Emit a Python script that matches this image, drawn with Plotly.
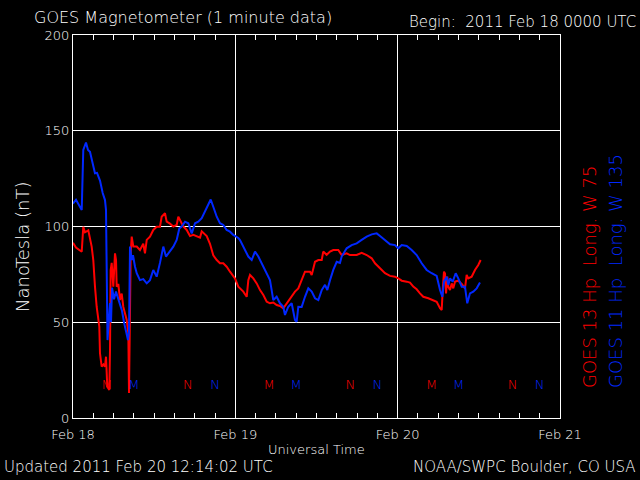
import pandas as pd
import plotly.graph_objects as go

# ---------------- data (hours after 2011 Feb 18 00:00 UTC, nT) ----------------
goes11_hours = [0.0, 0.44, 1.29, 1.52, 1.92, 2.22, 2.51, 2.76, 2.96, 3.25, 3.55, 3.99, 4.39, 4.73,
                4.88, 4.98, 5.1, 5.47, 5.62, 5.77, 6.06, 6.36, 6.65, 6.95, 7.24, 7.54, 7.84, 8.13,
                8.28, 8.43, 8.68, 8.87, 9.17, 9.42, 9.9, 10.39, 10.9, 11.38, 11.87, 12.37, 12.86,
                13.35, 13.75, 14.34, 14.83, 15.33, 15.72, 16.07, 16.56, 17.05, 17.55, 18.04, 18.52,
                19.03, 19.52, 20.0, 20.36, 20.74, 21.25, 21.73, 22.22, 22.72, 23.21, 23.7, 24.44,
                24.69, 25.18, 25.92, 26.42, 26.91, 27.4, 27.9, 28.64, 29.12, 29.37, 29.61, 30.11,
                30.6, 31.09, 31.34, 31.83, 32.33, 32.82, 33.07, 33.31, 33.81, 34.3, 34.79, 35.29,
                35.78, 36.27, 36.77, 37.26, 37.6, 38.0, 38.48, 38.99, 39.47, 39.72, 40.46, 41.2,
                41.94, 42.68, 43.42, 44.16, 44.9, 45.39, 46.13, 46.87, 47.6, 48.09, 48.6, 49.34,
                50.07, 50.81, 51.55, 52.29, 53.03, 53.77, 54.26, 54.6, 54.85, 55.25, 55.49, 55.74,
                56.14, 56.58, 56.96, 57.47, 57.95, 58.29, 58.69, 59.18, 59.68, 60.17]
goes11_nt = [112, 114, 108.6, 140, 143.8, 140, 139, 134.7, 133, 127.8, 128, 124, 117.5, 113.8,
             108.6, 68.6, 40.7, 60, 50, 68, 62, 66, 63, 60, 56, 50, 46, 40.7,
             45, 89.5, 82.5, 85, 79, 75.6, 72, 72.5, 70.3, 72, 77.3, 73.8, 81,
             89.5, 84.3, 87, 89.5, 93, 99, 100, 102.5, 101.7, 96.4, 101.7, 102.5,
             104.3, 107.7, 111.2, 114.1, 110.3, 105.1, 101.7, 100.8, 98.2, 97.3, 95.6, 94,
             92.9, 89.5, 84.3, 82.5, 86.9, 84.3, 80.8, 75.6, 72, 66.8, 61.6, 63.3,
             59.9, 58.1, 53.8, 58.1, 59.9, 51.2, 50.3, 58.1, 58, 63.3, 67.7, 66,
             62.5, 61.6, 66.8, 69.5, 66.8, 72, 77.3, 81.6, 81, 84.3, 88.6, 90.3,
             91.2, 93, 94.7, 95.9, 96.4, 95, 93, 90.7, 90.3, 88.6, 90.3, 89.8,
             87.7, 85.1, 80.8, 77.3, 75.6, 74.2, 66.8, 63.3, 71.2, 73.8, 69.5, 72.9,
             71.2, 75.6, 72.9, 68.6, 68.6, 59.9, 65.1, 66, 67.7, 70.7]

goes13_hours = [0.0, 0.44, 1.29, 1.52, 1.77, 2.26, 2.76, 3.0, 3.25, 3.5, 3.89, 3.99, 4.24, 4.51,
                4.73, 4.88, 5.07, 5.37, 5.47, 5.57, 5.72, 5.96, 6.21, 6.36, 6.46, 6.7, 6.95, 7.2,
                7.44, 7.69, 7.94, 8.18, 8.28, 8.53, 8.68, 8.92, 9.42, 9.9, 10.39, 10.64, 10.9,
                11.38, 11.87, 12.37, 12.86, 13.11, 13.6, 13.85, 14.34, 14.83, 15.33, 15.57, 15.82,
                16.31, 16.81, 17.3, 17.79, 18.29, 18.78, 19.03, 19.77, 20.25, 20.74, 21.25, 21.73,
                22.22, 22.72, 23.21, 23.7, 23.95, 24.44, 25.18, 25.68, 25.92, 26.17, 26.66, 27.16,
                27.65, 28.14, 28.64, 29.12, 29.61, 30.11, 30.6, 31.09, 31.59, 32.08, 32.82, 33.31,
                33.81, 34.3, 35.04, 35.29, 35.78, 36.27, 36.77, 37.0, 37.5, 38.0, 38.48, 39.22,
                39.72, 40.46, 40.95, 41.94, 42.68, 43.42, 44.16, 44.65, 45.39, 46.13, 46.87, 47.6,
                48.09, 48.6, 49.34, 49.82, 50.31, 50.81, 51.3, 51.79, 52.53, 53.03, 53.77, 54.26,
                54.51, 54.66, 54.85, 55.0, 55.15, 55.34, 55.49, 55.74, 55.99, 56.22, 56.48, 56.96,
                57.47, 57.95, 58.2, 58.44, 58.94, 59.43, 59.92, 60.27]
goes13_nt = [91.5, 89, 86.8, 99.9, 97, 98, 89.5, 82.5, 68.6, 58.1, 47.7, 33.8, 26.8, 28,
             26.8, 32, 16.3, 14.6, 35.5, 77.3, 81, 68.6, 86, 82.5, 68.6, 70, 61.6, 65,
             58, 54.7, 51.2, 44.2, 13, 86, 94.7, 89.5, 89.5, 87.7, 91, 86, 93,
             94.7, 98.2, 99.9, 99.9, 105.1, 106.9, 102.5, 101.5, 100, 100.8, 105.1, 103.4,
             100, 98.2, 95, 95.6, 95, 94.2, 97.5, 95, 91, 85, 82.5, 80.8,
             80.8, 79, 76.4, 73.8, 72.9, 68.6, 66, 63.3, 72, 74.7, 72.9, 70.3,
             66.8, 64.2, 60.7, 59.9, 60.3, 59, 58.5, 57.3, 59.9, 62.5, 66, 67.7,
             72, 76.4, 76.4, 74.7, 81.6, 82.5, 82.5, 86.9, 85.2, 86.9, 87.7, 87.7,
             85.1, 86, 85.1, 85.1, 86.3, 85.1, 83.4, 80.8, 78.2, 75.6, 74.2, 73.8,
             72.9, 71.7, 71.2, 70.7, 68.6, 67.2, 65.1, 63.3, 62.5, 61.6, 60.7, 57.3,
             56.4, 66.8, 76.4, 75.5, 65.1, 73.8, 68.6, 66.8, 70.3, 67.7, 71.2, 71.7,
             70, 67.7, 74.7, 72.9, 73.8, 77.3, 79.9, 82.5]

# local midnight (M) / noon (N) markers
goes13_marker_hours = [5, 17, 29, 41, 53, 65]
goes13_marker_text = ["M", "N", "M", "N", "M", "N"]
goes11_marker_hours = [9, 21, 33, 45, 57, 69]
goes11_marker_text = ["M", "N", "M", "N", "M", "N"]
marker_level = 17

y_ticks = [0, 50, 100, 150, 200]

title_text = "GOES Magnetometer (1 minute data)"
begin_text = "Begin:\u00a0\u00a02011 Feb 18 0000 UTC"
updated_text = "Updated 2011 Feb 20 12:14:02 UTC"
credit_text = "NOAA/SWPC Boulder, CO USA"
goes13_label = "GOES 13 Hp\u00a0\u00a0Long. W 75"
goes11_label = "GOES 11 Hp\u00a0\u00a0Long. W 135"

# ---------------- figure ----------------
base = pd.Timestamp("2011-02-18 00:00")
to_time = lambda hrs: [base + pd.Timedelta(hours=h) for h in hrs]

RED = "#ff0000"
BLUE = "#0028ff"
FONT = "DejaVu Sans"
WT = 200

fig = go.Figure()
fig.add_trace(go.Scatter(x=to_time(goes13_hours), y=goes13_nt, mode="lines",
                         line=dict(color=RED, width=2), hoverinfo="skip"))
fig.add_trace(go.Scatter(x=to_time(goes11_hours), y=goes11_nt, mode="lines",
                         line=dict(color=BLUE, width=2), hoverinfo="skip"))
fig.add_trace(go.Scatter(x=to_time(goes13_marker_hours), y=[marker_level] * len(goes13_marker_hours),
                         mode="text", text=goes13_marker_text,
                         textfont=dict(color=RED, size=13, family=FONT), hoverinfo="skip"))
fig.add_trace(go.Scatter(x=to_time(goes11_marker_hours), y=[marker_level] * len(goes11_marker_hours),
                         mode="text", text=goes11_marker_text,
                         textfont=dict(color=BLUE, size=13, family=FONT), hoverinfo="skip"))

axis_common = dict(showline=True, linecolor="white", linewidth=1, mirror="allticks",
                   showgrid=True, gridcolor="white", gridwidth=1, zeroline=False,
                   ticks="inside", tickcolor="white",
                   tickfont=dict(color="white", size=13, family=FONT, weight=WT))

fig.update_xaxes(range=[base, base + pd.Timedelta(days=3)], dtick=86400000, tickformat="%b %d",
                 ticklen=8, ticklabelstandoff=4,
                 minor=dict(dtick=3 * 3600000, ticks="inside", ticklen=5, tickcolor="white",
                            showgrid=False),
                 **axis_common)
fig.update_yaxes(range=[0, 200], tickvals=y_ticks, ticklen=7, **axis_common)

def ann(text, x, y, xa, ya, size, color="white", angle=0, weight=WT):
    fig.add_annotation(text=text, x=x, y=y, xref="paper", yref="paper", xanchor=xa, yanchor=ya,
                       showarrow=False, textangle=angle,
                       font=dict(color=color, size=size, family=FONT, weight=weight))

W, H = 487.0, 383.0
px = lambda p: (p - 73) / W
py = lambda p: (418 - p) / H

ann(title_text, px(32), py(18), "left", "middle", 16)
ann(begin_text, px(638), py(22), "right", "middle", 15)
ann(updated_text, px(2), py(467), "left", "middle", 15)
ann(credit_text, px(638), py(467), "right", "middle", 15)
ann("Universal Time", px(316), py(449), "center", "middle", 13)
ann("NanoTesla (nT)", px(22), py(247), "center", "middle", 18, angle=-90)
ann(goes13_label, px(589), py(390), "center", "bottom", 18, color=RED, angle=-90, weight=300)
ann(goes11_label, px(615), py(390), "center", "bottom", 18, color=BLUE, angle=-90, weight=300)

fig.update_layout(width=640, height=480, paper_bgcolor="black", plot_bgcolor="black",
                  margin=dict(l=73, r=80, t=35, b=62), showlegend=False,
                  font=dict(family=FONT, color="white", weight=WT))

fig.write_html("out.html")
